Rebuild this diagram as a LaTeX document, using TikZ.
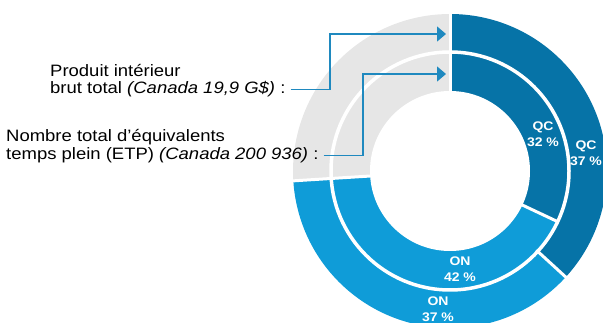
\documentclass[tikz,border=0pt]{standalone}
\usepackage{fontspec}
\setmainfont{Liberation Sans}[FakeStretch=1.12]
\usetikzlibrary{arrows.meta}
\definecolor{qcblue}{HTML}{0673A7}
\definecolor{onblue}{HTML}{0F9CD8}
\definecolor{restgray}{HTML}{E6E6E6}
\definecolor{leader}{HTML}{1F89BF}
\begin{document}
\begin{tikzpicture}[x=1pt,y=1pt,
  legend/.style={anchor=base west,inner sep=0pt,font=\fontsize{16.5}{18}\selectfont},
  share/.style={text=white,align=center,inner sep=0pt,font=\bfseries\fontsize{12.5}{16.5}\selectfont},
  gapline/.style={white,line width=3pt},
  leaderline/.style={leader,line width=1.2pt,-{Triangle[length=9pt,width=15pt]}}]
\useasboundingbox (0,0) rectangle (603,-323);
\clip (0,0) rectangle (603,-323);
\coordinate (C) at (450,-171);
% outer ring: GDP
\fill[qcblue] (C) -- ++(90:157) arc[start angle=90,end angle=-42.5,radius=157] -- cycle;
\fill[onblue] (C) -- ++(-42.5:157) arc[start angle=-42.5,end angle=-176.4,radius=157] -- cycle;
\fill[restgray] (C) -- ++(-176.4:157) arc[start angle=-176.4,end angle=-270,radius=157] -- cycle;
% inner ring: FTE
\fill[qcblue] (C) -- ++(90:119) arc[start angle=90,end angle=-25.2,radius=119] -- cycle;
\fill[onblue] (C) -- ++(-25.2:119) arc[start angle=-25.2,end angle=-176.4,radius=119] -- cycle;
\fill[restgray] (C) -- ++(-176.4:119) arc[start angle=-176.4,end angle=-270,radius=119] -- cycle;
\fill[white] (C) circle[radius=80];
% white separators
\draw[gapline,line width=3.5pt] (C) circle[radius=119];
\foreach \a in {90,-42.5,-176.4} \draw[gapline] (C) ++(\a:117) -- ++(\a:44);
\foreach \a in {90,-25.2,-176.4} \draw[gapline] (C) ++(\a:78) -- ++(\a:42);
% share labels
\node[share] (qcin) at (543,-134) {QC\\32 \%};
\node[share] (qcout) at (586,-153) {QC\\37 \%};
\node[share] (onin) at (460,-269) {ON\\42 \%};
\node[share] (onout) at (438,-309) {ON\\37 \%};
% legend texts
\node[legend] (gdpA) at (50,-77) {Produit intérieur};
\node[legend] (gdpB) at (50,-94) {brut total \textit{(Canada 19,9 G\$)} :};
\node[legend] (fteA) at (6,-142) {Nombre total d’équivalents};
\node[legend] (fteB) at (6,-160) {temps plein (ETP) \textit{(Canada 200 936)} :};
% leaders
\coordinate (gdpBend) at (330,-34);
\coordinate (gdpTip) at (446,-34);
\coordinate (fteBend) at (363,-74);
\coordinate (fteTip) at (446,-74);
\draw[leaderline] ([xshift=5pt]gdpB.east) -| (gdpBend) -- (gdpTip);
\draw[leaderline] ([xshift=5pt]fteB.east) -| (fteBend) -- (fteTip);
\end{tikzpicture}
\end{document}
